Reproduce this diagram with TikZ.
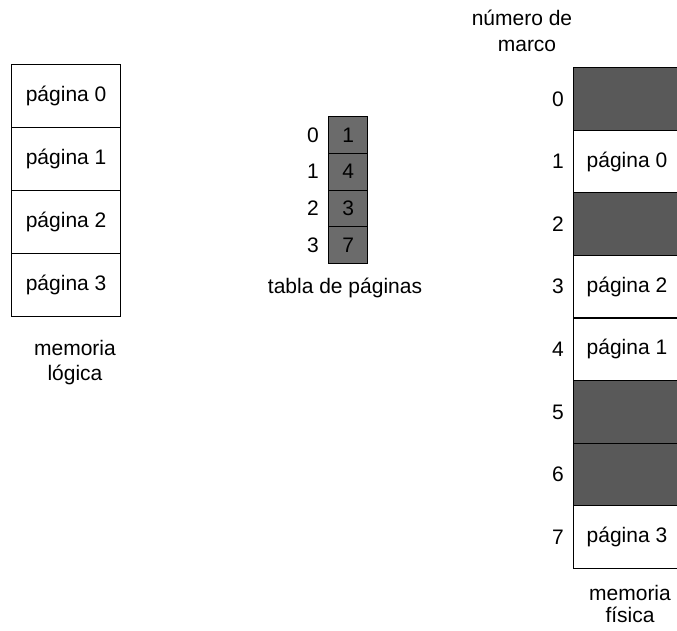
\documentclass[tikz,border=0pt]{standalone}
\usepackage{fontspec}
\setmainfont{Liberation Sans}
\begin{document}
\begin{tikzpicture}[x=1pt,y=-1pt,
  every node/.style={font=\fontsize{21}{25}\selectfont, inner sep=0pt},
  lcell/.style={draw, line width=1.2pt, minimum width=109pt, minimum height=63pt, anchor=north west},
  pcell/.style={draw, line width=1.2pt, minimum width=125pt, minimum height=62.6pt, anchor=north west},
  dark/.style={fill=black!65},
  tcell/.style={draw, line width=1.2pt, fill=black!58, minimum width=39pt, minimum height=36.75pt, anchor=north west},
  numlbl/.style={anchor=east}]
\clip (0,0) rectangle (677,630);
\fill[white] (0,0) rectangle (677,630);
% logical memory
\foreach \i in {0,...,3}
  \node[lcell] (l\i) at (11,{64+63*\i}) {página \i};
\node (lmem) at (75,348) {memoria};
\node (llog) at (75,375) {lógica};
% page table
\foreach \v [count=\j from 0] in {1,4,3,7} {
  \node[tcell] (t\j) at (328,{116+36.75*\j}) {\v};
  \node[numlbl] (tl\j) at ([xshift=-9pt]t\j.west) {\j};
}
\node (tcap) at (345,288) {tabla de páginas};
% physical memory
\foreach \i in {0,...,7}
  \node[pcell] (p\i) at (573,{67+62.6*\i}) {};
\foreach \i in {0,2,5,6}
  \node[pcell,dark] (ps\i) at (573,{67+62.6*\i}) {};
\foreach \i in {0,...,7}
  \node[numlbl] (pl\i) at ([xshift=-9pt]p\i.west) {\i};
\node (pp1) at ([xshift=54pt]p1.west) {página 0};
\node (pp3) at ([xshift=54pt]p3.west) {página 2};
\node (pp4) at ([xshift=54pt]p4.west) {página 1};
\node (pp7) at ([xshift=54pt]p7.west) {página 3};
\node (nm1) at (522,18) {número de};
\node (nm2) at (527,46) {marco};
\node (fm1) at (630,593) {memoria};
\node (fm2) at (630,615) {física};
\end{tikzpicture}
\end{document}
